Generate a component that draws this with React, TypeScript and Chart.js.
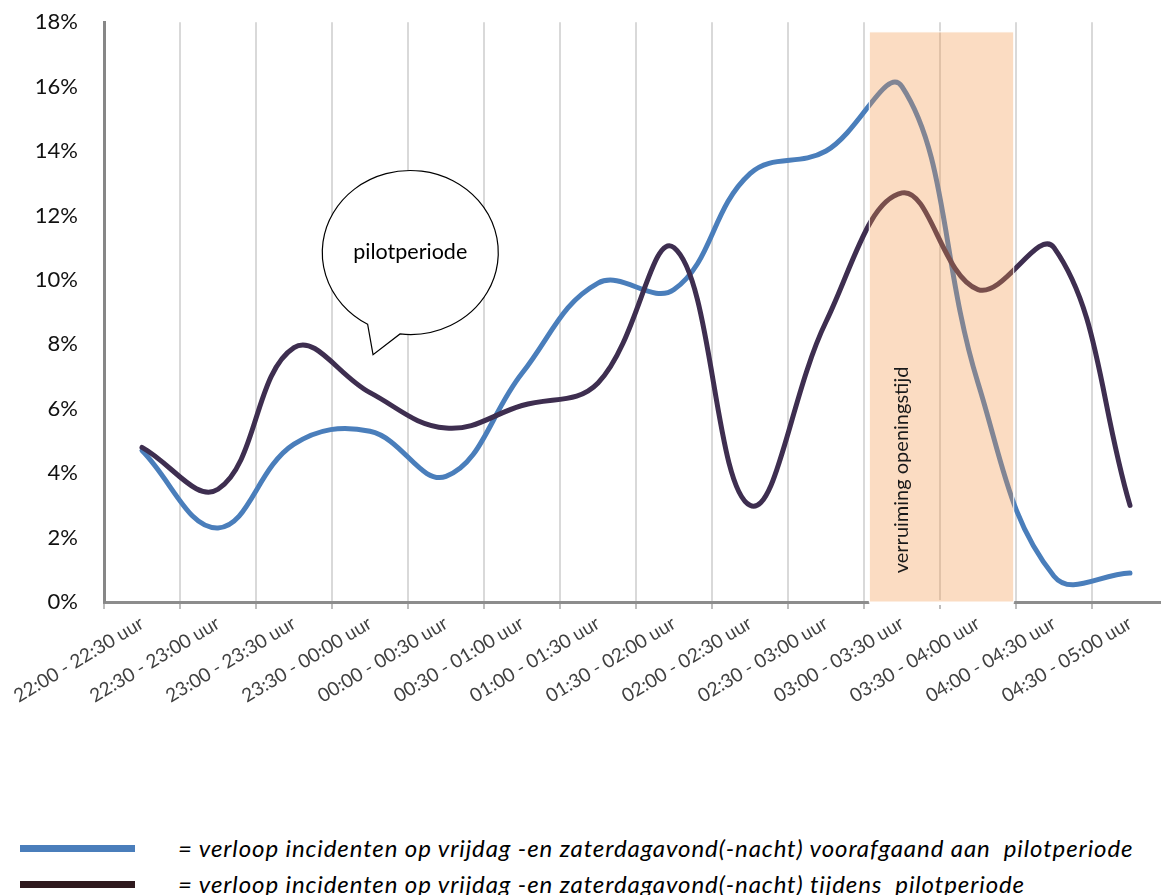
import React, { useEffect, useRef } from "react";
import { Chart, registerables } from "chart.js";

Chart.register(...registerables);

// ---------- data ----------
const categories = [
  "22:00 - 22:30 uur",
  "22:30 - 23:00 uur",
  "23:00 - 23:30 uur",
  "23:30 - 00:00 uur",
  "00:00 - 00:30 uur",
  "00:30 - 01:00 uur",
  "01:00 - 01:30 uur",
  "01:30 - 02:00 uur",
  "02:00 - 02:30 uur",
  "02:30 - 03:00 uur",
  "03:00 - 03:30 uur",
  "03:30 - 04:00 uur",
  "04:00 - 04:30 uur",
  "04:30 - 05:00 uur",
];

const beforePilot = [4.7, 2.3, 4.9, 5.3, 3.9, 7.1, 9.9, 9.7, 13.3, 14.0, 16.0, 6.8, 0.8, 0.9];
const duringPilot = [4.8, 3.5, 7.9, 6.5, 5.4, 6.1, 6.8, 11.0, 3.0, 8.7, 12.7, 9.7, 11.0, 3.0];

const yTickValues = [0, 2, 4, 6, 8, 10, 12, 14, 16, 18];

const seriesLabels = [
  "= verloop incidenten op vrijdag -en zaterdagavond(-nacht) voorafgaand aan  pilotperiode",
  "= verloop incidenten op vrijdag -en zaterdagavond(-nacht) tijdens  pilotperiode",
];

// annotation anchors (in axis values: category index / percent)
const highlightFrom = 9.57;
const highlightTo = 11.47;
const highlightTop = 17.7;
const highlightLabel = "verruiming openingstijd";
const highlightLabelAt = [10, 4.1];

const bubbleCenter = [3.53, 10.85];
const bubbleTip = [3.04, 7.68];
const bubbleLabel = "pilotperiode";

// ---------- styles ----------
const lineColors = ["#4A7EBB", "#3E2E50"];
const legendColors = ["#4A7EBB", "#2F1A1E"];
const FONT = "Lato, 'Open Sans', sans-serif";
const CANVAS_SHIFT = 17;

const annotationPlugin = {
  id: "chartAnnotations",
  afterDatasetsDraw(chart: any) {
    const { ctx, scales } = chart;
    const x = scales.x;
    const y = scales.y;
    const left = x.getPixelForValue(highlightFrom);
    const right = x.getPixelForValue(highlightTo);
    const top = y.getPixelForValue(highlightTop);
    const bottom = y.getPixelForValue(0);
    ctx.save();
    ctx.fillStyle = "#ffffff";
    ctx.fillRect(left, bottom - 2, right - left, 5);
    ctx.fillStyle = "rgba(243,149,70,0.33)";
    ctx.fillRect(left, top, right - left, bottom - top);
    ctx.strokeStyle = "#ffffff";
    ctx.lineWidth = 1;
    ctx.strokeRect(left, top, right - left, bottom - top);
    // rotated label
    const lx = x.getPixelForValue(highlightLabelAt[0]);
    const ly = y.getPixelForValue(highlightLabelAt[1]);
    ctx.translate(lx, ly);
    ctx.rotate(-Math.PI / 2);
    ctx.fillStyle = "#1a1a1a";
    ctx.font = `20px ${FONT}`;
    ctx.textAlign = "center";
    ctx.textBaseline = "middle";
    ctx.fillText(highlightLabel, 0, 0);
    ctx.restore();
  },
  afterDraw(chart: any) {
    const { ctx, scales } = chart;
    const x = scales.x;
    const y = scales.y;
    const cx = x.getPixelForValue(bubbleCenter[0]);
    const cy = y.getPixelForValue(bubbleCenter[1]);
    const tx = x.getPixelForValue(bubbleTip[0]);
    const ty = y.getPixelForValue(bubbleTip[1]);
    const rx = 88;
    const ry = 82;
    const a0 = (119 * Math.PI) / 180;
    const a1 = ((96.7 + 360) * Math.PI) / 180;
    ctx.save();
    ctx.beginPath();
    ctx.ellipse(cx, cy, rx, ry, 0, a0, a1);
    ctx.lineTo(tx, ty);
    ctx.closePath();
    ctx.fillStyle = "#ffffff";
    ctx.fill();
    ctx.strokeStyle = "#000000";
    ctx.lineWidth = 1.2;
    ctx.stroke();
    ctx.fillStyle = "#000000";
    ctx.font = `21.5px ${FONT}`;
    ctx.textAlign = "center";
    ctx.textBaseline = "middle";
    ctx.fillText(bubbleLabel, cx, cy);
    ctx.restore();
  },
};

export default function App() {
  const canvasRef = useRef<HTMLCanvasElement | null>(null);

  useEffect(() => {
    const canvas = canvasRef.current;
    if (!canvas) return;
    const chart = new Chart(canvas, {
      type: "line",
      data: {
        labels: categories,
        datasets: [
          {
            label: seriesLabels[0],
            data: beforePilot,
            borderColor: lineColors[0],
            backgroundColor: lineColors[0],
            borderWidth: 5,
            tension: 0.4,
            pointRadius: 0,
            borderCapStyle: "round",
            borderJoinStyle: "round",
            order: 1,
          },
          {
            label: seriesLabels[1],
            data: duringPilot,
            borderColor: lineColors[1],
            backgroundColor: lineColors[1],
            borderWidth: 5,
            tension: 0.4,
            pointRadius: 0,
            borderCapStyle: "round",
            borderJoinStyle: "round",
            order: 0,
          },
        ],
      },
      options: {
        responsive: false,
        animation: false,
        layout: { padding: { top: 0, right: 2, left: 0, bottom: 0 } },
        plugins: {
          legend: { display: false },
          tooltip: { enabled: false },
        },
        scales: {
          x: {
            type: "category",
            offset: true,
            grid: {
              offset: true,
              color: "#D9D9D9",
              lineWidth: 2,
              tickLength: 7,
              tickColor: "#BDBDBD",
            },
            border: { color: "#8C8C8C", width: 3 },
            ticks: {
              autoSkip: false,
              maxRotation: 31,
              minRotation: 31,
              padding: 3,
              color: "#404040",
              font: { family: FONT, size: 19 },
            },
            afterFit: (s: any) => {
              s.height = 158;
            },
          },
          y: {
            min: 0,
            max: 18,
            afterBuildTicks: (s: any) => {
              s.ticks = yTickValues.map((v) => ({ value: v }));
            },
            grid: { display: false, drawTicks: false },
            border: { color: "#878787", width: 3 },
            ticks: {
              padding: 26,
              color: "#111111",
              font: { family: FONT, size: 22 },
              callback: (v: any) => `${v}%`,
            },
            afterFit: (s: any) => {
              s.width = 104;
            },
          },
        },
      },
      plugins: [annotationPlugin],
    });
    return () => chart.destroy();
  }, []);

  return (
    <div
      style={{
        position: "fixed",
        left: 0,
        top: 0,
        width: 1161,
        height: 895,
        overflow: "hidden",
        background: "#ffffff",
      }}
    >
      <canvas
        ref={canvasRef}
        width={1170}
        height={777}
        style={{ position: "absolute", left: 0, top: -CANVAS_SHIFT, width: 1170, height: 777 }}
      />
      {seriesLabels.map((label, i) => (
        <div key={i}>
          <div
            style={{
              position: "absolute",
              left: 20,
              top: 845 + i * 36,
              width: 115,
              height: 7,
              background: legendColors[i],
            }}
          />
          <div
            style={{
              position: "absolute",
              left: 178,
              top: 848 + i * 36,
              transform: "translateY(-50%)",
              whiteSpace: "pre",
              fontFamily: FONT,
              fontStyle: "italic",
              fontSize: 24,
              letterSpacing: 0.9,
              color: "#000000",
              lineHeight: 1,
            }}
          >
            {label}
          </div>
        </div>
      ))}
    </div>
  );
}
